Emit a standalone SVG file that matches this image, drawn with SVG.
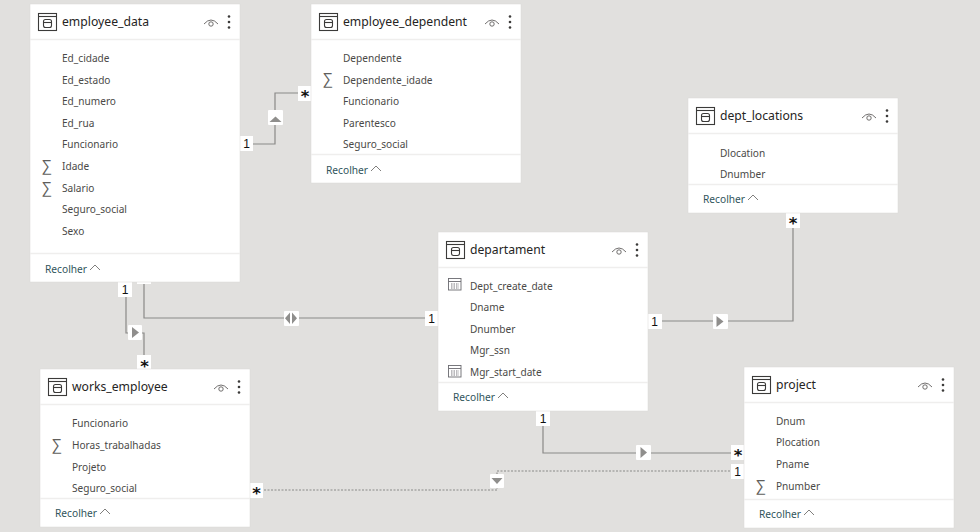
<svg xmlns="http://www.w3.org/2000/svg" width="980" height="532" viewBox="0 0 980 532">
<style>
text{font-family:"Noto Sans","Open Sans","Liberation Sans",sans-serif}
.card{fill:#fff;stroke:#d9d8d6;stroke-width:.5}
.div{stroke:#efeeed;stroke-width:1.5;fill:none}
.title{font-size:12.2px;fill:#252423}
.f{font-size:10.1px;fill:#4a4947}
.r{font-size:10.2px;fill:#31555c}
.sig{font-size:15px;fill:#605e5c}
.ln{fill:none;stroke:#8a8987;stroke-width:1.2}
.dash{fill:none;stroke:#8a8987;stroke-width:1.1;stroke-dasharray:2 1.5}
.b{fill:#fff}
.t{font-size:12px;fill:#111;text-anchor:middle;font-family:"Liberation Sans",sans-serif}
.s{font-size:16.500px;fill:#111;text-anchor:middle;font-family:"DejaVu Sans",sans-serif;font-weight:bold}
.a{fill:#8f8e8c}
.ic{fill:none;stroke:#3b3a39;stroke-width:1.1}
.cal{fill:none;stroke:#6b6a70;stroke-width:.9}
.ey{fill:none;stroke:#605e5c;stroke-width:.9}
.d{fill:#3b3a39}
</style>
<defs>
<g id="head">
<rect class="ic" x="0.5" y="0.5" width="18" height="17"/><path class="ic" d="M0.5 3.5H18.500"/>
<rect class="ic" x="5.500" y="6.500" width="8" height="8" rx="2"/><path class="ic" d="M5.500 9.500H13.500"/>
<path class="ey" d="M166 11Q173 3 180 11"/><circle class="ey" cx="173" cy="11" r="2.200"/>
<circle class="d" cx="191" cy="3.500" r="1.300"/><circle class="d" cx="191" cy="9" r="1.300"/><circle class="d" cx="191" cy="14.500" r="1.300"/>
</g>
<g id="cal">
<rect class="cal" x="0.500" y="0.500" width="12.500" height="11.500"/><path class="cal" d="M0.500 3.500H13"/><path class="cal" stroke-dasharray="1.500 1" d="M3 6H11M3 8H11M3 10H11"/>
</g>
<path id="chev" d="M0 5L5 0L10 5" fill="none" stroke="#605e5c" stroke-width=".8"/>
</defs>
<rect width="980" height="532" fill="#e1e0de"/>

<g id="connectors">
<path class="ln" d="M240 144H275V93H311"/>
<path class="ln" d="M126 282V333H135M135 333H144V369"/>
<path class="ln" d="M144 282V318H438"/>
<path class="ln" d="M648 321H793V213"/>
<path class="ln" d="M543 411V453H744"/>
<path class="dash" d="M250 490H497V471H744"/>
<g id="conn-marks">
<rect class="b" x="240" y="136" width="13" height="15"/><text class="t" x="246.500" y="148">1</text>
<rect class="b" x="268" y="110" width="15" height="15" rx="1"/><path class="a" d="M269.500 122L275.500 116.500L281.500 122Z"/>
<rect class="b" x="298" y="86" width="13" height="15"/><text class="s" x="305" y="102">*</text>
<rect class="b" x="118" y="282" width="14" height="15"/><text class="t" x="125" y="294">1</text>
<rect class="b" x="128" y="325" width="14" height="15" rx="1"/><path class="a" d="M132 327V338L139 332.500Z"/>
<rect class="b" x="137" y="355" width="14" height="14"/><text class="s" x="144.500" y="372">*</text>
<rect class="b" x="137" y="282" width="14" height="2"/>
<rect class="b" x="284" y="311" width="15" height="15" rx="1"/><path class="a" d="M290 312.500V324L285 318.200ZM292 312.500V324L297 318.200Z"/>
<rect class="b" x="425" y="311" width="13" height="15"/><text class="t" x="431.500" y="323">1</text>
<rect class="b" x="648" y="314" width="14" height="15"/><text class="t" x="654.500" y="326">1</text>
<rect class="b" x="713" y="314" width="15" height="15" rx="1"/><path class="a" d="M716.500 316V327L723.500 321.500Z"/>
<rect class="b" x="786" y="213" width="14" height="15"/><text class="s" x="793" y="229">*</text>
<rect class="b" x="536" y="411" width="14" height="15"/><text class="t" x="543" y="423">1</text>
<rect class="b" x="636" y="445" width="15" height="15" rx="1"/><path class="a" d="M640.500 447V458L647 452.500Z"/>
<rect class="b" x="731" y="445" width="13" height="15"/><text class="s" x="738" y="461">*</text>
<rect class="b" x="731" y="464" width="13" height="15"/><text class="t" x="737.500" y="476">1</text>
<rect class="b" x="490" y="474" width="14" height="14" rx="1"/><path class="a" d="M491.500 478H502.500L497 484Z"/>
<rect class="b" x="250" y="483" width="13" height="15"/><text class="s" x="256.500" y="499">*</text>
</g>
</g>

<g id="employee_data">
<rect class="card" x="30" y="4" width="210" height="278"/>
<path class="div" d="M30 39.500H240M30 253.500H240"/>
<use href="#head" x="38" y="13"/>
<text class="title" x="62" y="26">employee_data</text>
<text class="f" x="62" y="62">Ed_cidade</text>
<text class="f" x="62" y="84">Ed_estado</text>
<text class="f" x="62" y="105">Ed_numero</text>
<text class="f" x="62" y="127">Ed_rua</text>
<text class="f" x="62" y="148">Funcionario</text>
<text class="sig" x="42" y="171">∑</text><text class="f" x="62" y="170">Idade</text>
<text class="sig" x="42" y="193">∑</text><text class="f" x="62" y="192">Salario</text>
<text class="f" x="62" y="213">Seguro_social</text>
<text class="f" x="62" y="235">Sexo</text>
<text class="r" x="45" y="273">Recolher</text><use href="#chev" x="90" y="265"/>
</g>

<g id="employee_dependent">
<rect class="card" x="311" y="4" width="210" height="179"/>
<path class="div" d="M311 39.500H521M311 154.500H521"/>
<use href="#head" x="319" y="13"/>
<text class="title" x="343" y="26">employee_dependent</text>
<text class="f" x="343" y="62">Dependente</text>
<text class="sig" x="323" y="84">∑</text><text class="f" x="343" y="84">Dependente_idade</text>
<text class="f" x="343" y="105">Funcionario</text>
<text class="f" x="343" y="127">Parentesco</text>
<text class="f" x="343" y="148">Seguro_social</text>
<text class="r" x="326" y="174">Recolher</text><use href="#chev" x="371" y="166"/>
</g>

<g id="dept_locations">
<rect class="card" x="688" y="98" width="210" height="115"/>
<path class="div" d="M688 133.500H898M688 184.500H898"/>
<use href="#head" x="696" y="107"/>
<text class="title" x="720" y="120">dept_locations</text>
<text class="f" x="720" y="157">Dlocation</text>
<text class="f" x="720" y="178">Dnumber</text>
<text class="r" x="703" y="203">Recolher</text><use href="#chev" x="748" y="195"/>
</g>

<g id="departament">
<rect class="card" x="438" y="232" width="210" height="179"/>
<path class="div" d="M438 267.500H648M438 382.500H648"/>
<use href="#head" x="446" y="241"/>
<text class="title" x="470" y="254">departament</text>
<use href="#cal" x="448" y="278"/><text class="f" x="470" y="290">Dept_create_date</text>
<text class="f" x="470" y="311">Dname</text>
<text class="f" x="470" y="333">Dnumber</text>
<text class="f" x="470" y="354">Mgr_ssn</text>
<use href="#cal" x="448" y="365"/><text class="f" x="470" y="376">Mgr_start_date</text>
<text class="r" x="453" y="401">Recolher</text><use href="#chev" x="498" y="393"/>
</g>

<g id="works_employee">
<rect class="card" x="40" y="369" width="210" height="158"/>
<path class="div" d="M40 404.500H250M40 498.500H250"/>
<use href="#head" x="48" y="378"/>
<text class="title" x="72" y="391">works_employee</text>
<text class="f" x="72" y="427">Funcionario</text>
<text class="sig" x="52" y="450">∑</text><text class="f" x="72" y="449">Horas_trabalhadas</text>
<text class="f" x="72" y="471">Projeto</text>
<text class="f" x="72" y="492">Seguro_social</text>
<text class="r" x="55" y="517">Recolher</text><use href="#chev" x="100" y="509"/>
</g>

<g id="project">
<rect class="card" x="744" y="367" width="210" height="161"/>
<path class="div" d="M744 402.500H954M744 499.500H954"/>
<use href="#head" x="752" y="376"/>
<text class="title" x="776" y="389">project</text>
<text class="f" x="776" y="425">Dnum</text>
<text class="f" x="776" y="446">Plocation</text>
<text class="f" x="776" y="468">Pname</text>
<text class="sig" x="756" y="491">∑</text><text class="f" x="776" y="490">Pnumber</text>
<text class="r" x="759" y="518">Recolher</text><use href="#chev" x="804" y="510"/>
</g>
</svg>
